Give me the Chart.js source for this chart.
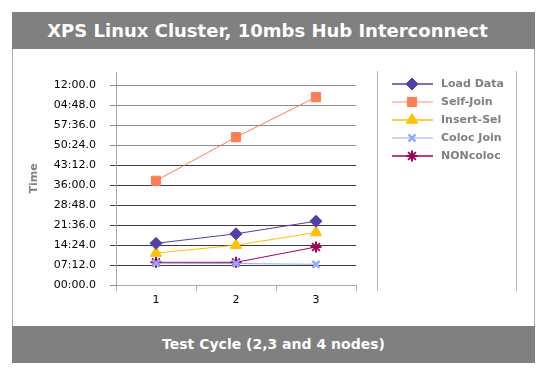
<!DOCTYPE html>
<html>
<head>
<meta charset="utf-8">
<script src="https://cdn.jsdelivr.net/npm/chart.js@4/dist/chart.umd.min.js"></script>
<style>
    body { margin: 0; background: #fff; }
    #frame { position: absolute; left: 12px; top: 12px; width: 523px; }
    .bar {
        height: 37px; line-height: 37px; background: #808080; color: #fff;
        font-family: "DejaVu Sans", sans-serif; font-weight: bold; text-align: center;
    }
    #titleBar { font-size: 18px; padding-right: 12px; width: 511px; }
    #footBar { font-size: 14px; }
    #plotBox { border-left: 1px solid #b0b0b0; border-right: 1px solid #b0b0b0; height: 277px; }
    #plotBox canvas { display: block; }
</style>
</head>
<body>
<div id="frame">
    <div id="titleBar" class="bar">XPS Linux Cluster, 10mbs Hub Interconnect</div>
    <div id="plotBox"><canvas id="clusterChart" width="521" height="277"></canvas></div>
    <div id="footBar" class="bar">Test Cycle (2,3 and 4 nodes)</div>
</div>
<script>
// Test cycles on the x axis
const categories = ["1", "2", "3"];

// Times in seconds for each run
const loadData = [900, 1106, 1378];
const selfJoin = [2251, 3193, 4057];
const insertSel = [690, 860, 1135];
const colocJoin = [469, 464, 447];
const nonColoc = [490, 490, 821];

// y tick values (seconds), shown as mm:ss.0
const yTicks = [0, 432, 864, 1296, 1728, 2160, 2592, 3024, 3456, 3888, 4320];

function formatTime(sec) {
    const m = Math.floor(sec / 60) % 60;
    const s = sec % 60;
    return String(m).padStart(2, "0") + ":" + s.toFixed(1).padStart(4, "0");
}

// grid lines: the upper ones come out lighter in the original
function yGridColor(ctx) {
    const i = ctx.index;
    return (i === 0 || i >= 7) ? "#8c8c8c" : "#3c3c3c";
}

// draws the legend on the right, between two vertical rules
const sideLegend = {
    id: "sideLegend",
    afterDraw(chart) {
        const ctx = chart.ctx;
        ctx.save();
        ctx.strokeStyle = "#b4b4b4";
        ctx.lineWidth = 1;
        ctx.beginPath();
        ctx.moveTo(364.5, 22); ctx.lineTo(364.5, 242);
        ctx.moveTo(503.5, 22); ctx.lineTo(503.5, 242);
        ctx.stroke();

        chart.data.datasets.forEach((ds, i) => {
            const y = 35 + i * 18;
            ctx.strokeStyle = ds.legendLine || ds.borderColor;
            ctx.lineWidth = 1.5;
            ctx.beginPath();
            ctx.moveTo(379, y); ctx.lineTo(420, y);
            ctx.stroke();

            ctx.fillStyle = ds.pointBackgroundColor;
            ctx.strokeStyle = ds.pointBorderColor;
            ctx.lineWidth = ds.pointBorderWidth;
            Chart.helpers.drawPoint(ctx, {
                pointStyle: ds.pointStyle,
                radius: ds.pointRadius,
                rotation: 0,
                borderWidth: ds.pointBorderWidth
            }, 399, y);

            ctx.fillStyle = "#808080";
            ctx.font = "bold 11px 'DejaVu Sans'";
            ctx.textBaseline = "middle";
            ctx.textAlign = "left";
            ctx.fillText(ds.label, 428, y);
        });
        ctx.restore();
    }
};

function series(label, data, color, style, radius, extra) {
    return Object.assign({
        label: label,
        data: data,
        borderColor: color,
        backgroundColor: color,
        borderWidth: 1,
        pointStyle: style,
        pointRadius: radius,
        pointBackgroundColor: color,
        pointBorderColor: color,
        pointBorderWidth: 1,
        fill: false,
        tension: 0
    }, extra || {});
}

const ctx = document.getElementById("clusterChart").getContext("2d");
new Chart(ctx, {
    type: "line",
    data: {
        labels: categories,
        datasets: [
            series("Load Data", loadData, "#553ea6", "rectRot", 6),
            series("Self-Join", selfJoin, "#fb7f55", "rect", 6.5, { legendLine: "#fdb39c" }),
            series("Insert-Sel", insertSel, "#ffc000", "triangle", 6.5),
            series("Coloc Join", colocJoin, "#8fabff", "crossRot", 5, { pointBorderWidth: 2.5, legendLine: "#b7caff" }),
            series("NONcoloc", nonColoc, "#a3005a", "star", 5.5, { pointBorderWidth: 2 })
        ]
    },
    options: {
        responsive: false,
        animation: false,
        layout: { padding: { top: 23, right: 178, left: 0, bottom: 0 } },
        plugins: {
            legend: { display: false },
            tooltip: { enabled: false }
        },
        scales: {
            x: {
                type: "category",
                offset: true,
                grid: {
                    offset: true,
                    color: c => (c.index === 0 || c.index === 3) ? "#b0b0b0" : "rgba(0,0,0,0)",
                    tickColor: "#b0b0b0",
                    tickLength: 6
                },
                border: { color: "#a8a8a8" },
                ticks: {
                    color: "#000",
                    padding: 3,
                    font: { family: "DejaVu Sans", size: 11 }
                },
                afterFit: scale => { scale.height = 41; }
            },
            y: {
                min: 0,
                max: 4601,
                afterBuildTicks: scale => {
                    scale.ticks = yTicks.map(v => ({ value: v }));
                },
                grid: {
                    color: yGridColor,
                    tickColor: yGridColor,
                    tickLength: 6
                },
                border: { color: "#a8a8a8" },
                ticks: {
                    color: "#000",
                    padding: 14,
                    font: { family: "DejaVu Sans", size: 11 },
                    callback: v => formatTime(v)
                },
                title: {
                    display: true,
                    text: "Time",
                    color: "#808080",
                    padding: { top: 15, bottom: 0 },
                    font: { family: "DejaVu Sans", size: 11, weight: "bold" }
                },
                afterFit: scale => { scale.width = 103; }
            }
        }
    },
    plugins: [sideLegend]
});
</script>
</body>
</html>
